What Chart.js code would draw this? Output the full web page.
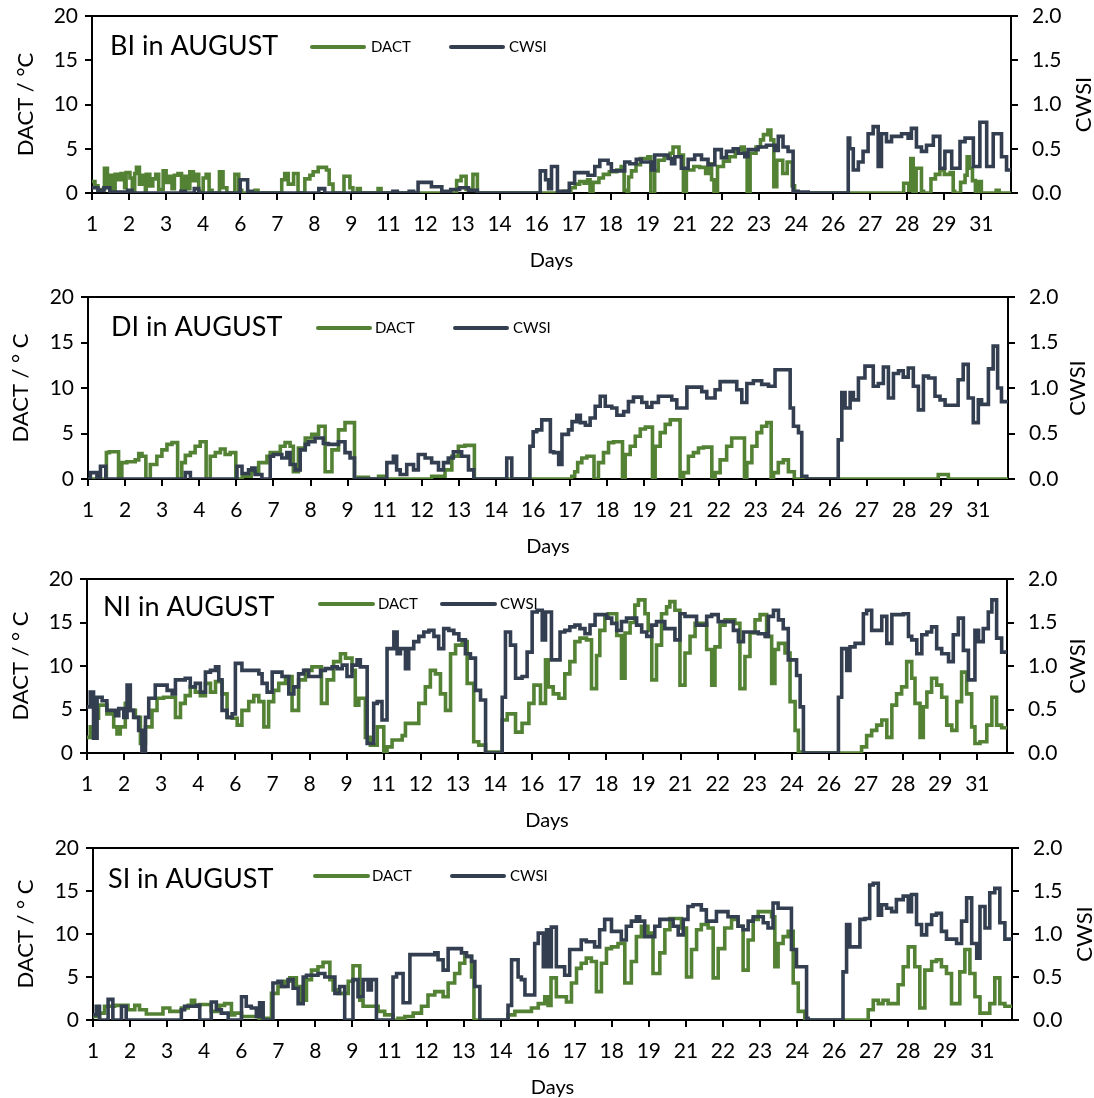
<!DOCTYPE html>
<html>
<head>
<meta charset="utf-8">
<script src="https://cdn.jsdelivr.net/npm/chart.js@4.4.1/dist/chart.umd.min.js"></script>
<style>
  html, body { margin: 0; padding: 0; background: #fff; overflow: hidden; }
  #wrap { position: relative; width: 1094px; height: 1098px; }
  canvas { position: absolute; left: 0; }
</style>
</head>
<body>
<div id="wrap">
  <canvas id="panelBI" width="1094" height="269"></canvas>
  <canvas id="panelDI" width="1094" height="274"></canvas>
  <canvas id="panelNI" width="1094" height="266"></canvas>
  <canvas id="panelSI" width="1094" height="264"></canvas>
</div>
<script>
// x ticks every 30 h, starting on day 1
const dayTicks = [1, 2.25, 3.5, 4.75, 6, 7.25, 8.5, 9.75, 11, 12.25, 13.5, 14.75, 16,
                  17.25, 18.5, 19.75, 21, 22.25, 23.5, 24.75, 26, 27.25, 28.5, 29.75, 31];
const dayLabels = ['1', '2', '3', '4', '6', '7', '8', '9', '11', '12', '13', '14', '16',
                   '17', '18', '19', '21', '22', '23', '24', '26', '27', '28', '29', '31'];
const dactTicks = [0, 5, 10, 15, 20];
const dactLabels = ['0', '5', '10', '15', '20'];
const cwsiTicks = [0, 0.5, 1, 1.5, 2];
const cwsiLabels = ['0.0', '0.5', '1.0', '1.5', '2.0'];

// [day, value] : value holds until the next point
const dactBI = [[1.0,1.3],[1.1,0.8],[1.2,0.4],[1.42,2.8],[1.52,1.0],[1.6,2.0],[1.7,0.3],[1.78,2.1],[1.9,1.5],[1.98,2.2],[2.1,0.6],[2.15,2.3],[2.28,1.7],[2.36,0.2],[2.44,2.2],[2.5,2.9],[2.6,1.0],[2.68,2.0],[2.8,0.3],[2.83,2.1],[2.95,0.8],[3.05,1.6],[3.15,2.1],[3.25,0.4],[3.4,2.5],[3.5,1.2],[3.6,1.9],[3.7,0.5],[3.78,2.0],[3.9,2.2],[4.02,0.3],[4.1,1.9],[4.2,0.5],[4.3,2.4],[4.42,1.4],[4.5,2.1],[4.6,0.2],[4.75,1.7],[4.85,2.1],[4.95,0.3],[5.05,0],[5.3,2.4],[5.42,0.6],[5.55,0],[5.82,2.1],[5.95,0.3],[6.05,0],[6.5,0.3],[6.6,0],[7.4,1.5],[7.5,2.2],[7.62,1.0],[7.8,2.2],[7.95,0],[8.18,1.6],[8.35,2.0],[8.46,2.4],[8.63,2.9],[8.91,2.6],[9.0,1.0],[9.13,0],[9.5,1.9],[9.7,0.6],[9.8,0],[9.95,0.5],[10.05,0],[10.65,0.5],[10.75,0],[13.3,1.4],[13.45,1.9],[13.62,0.4],[13.85,2.1],[14.0,0],[16.9,0.2],[17.0,0],[17.15,0.6],[17.3,1.0],[17.45,1.3],[17.6,1.1],[17.72,1.5],[17.8,0.2],[17.9,1.2],[18.1,1.7],[18.25,2.1],[18.45,2.4],[18.7,2.6],[18.85,3.0],[18.95,0.3],[19.05,0],[19.1,1.8],[19.2,2.5],[19.35,3.2],[19.5,3.9],[19.75,4.1],[19.85,0],[19.98,2.5],[20.1,3.7],[20.3,4.2],[20.5,4.5],[20.6,5.2],[20.8,4.3],[20.95,0],[21.05,2.6],[21.3,3.0],[21.5,2.9],[21.7,2.2],[21.8,3.3],[21.9,1.5],[21.98,0],[22.1,3.0],[22.3,3.6],[22.5,4.1],[22.7,4.9],[22.9,5.2],[23.0,4.5],[23.1,0],[23.2,4.5],[23.4,5.2],[23.55,6.0],[23.65,6.6],[23.8,7.1],[23.9,6.0],[24.0,0.7],[24.1,3.7],[24.3,2.2],[24.45,3.5],[24.62,0.8],[24.7,0],[28.38,1.1],[28.55,0.3],[28.62,3.9],[28.7,0.2],[28.8,2.8],[28.98,0.2],[29.05,0],[29.3,1.6],[29.45,2.1],[29.6,2.6],[29.75,2.1],[29.95,2.3],[30.05,0.2],[30.1,0],[30.3,1.2],[30.45,2.0],[30.52,4.1],[30.6,2.8],[30.7,1.4],[30.8,0],[30.88,1.3],[31.0,0],[31.5,0.3],[31.6,0],[32.0,0]];
const cwsiBI = [[1.0,0.06],[1.2,0.03],[1.4,0.06],[1.6,0.01],[2.2,0.03],[2.35,0],[4.0,0.02],[4.15,0],[4.45,0.05],[4.6,0],[6.0,0.15],[6.25,0.02],[6.4,0],[8.65,0.05],[8.85,0],[11.15,0.02],[11.3,0],[11.7,0.02],[11.85,0],[12.0,0.12],[12.45,0.07],[12.8,0.02],[13.1,0.04],[13.4,0.06],[13.7,0.03],[14.0,0],[16.12,0.25],[16.3,0.15],[16.4,0.05],[16.5,0.3],[16.7,0.02],[17.1,0.11],[17.28,0.23],[17.73,0.2],[17.96,0.3],[18.13,0.37],[18.41,0.33],[18.52,0.25],[18.97,0.35],[19.14,0.33],[19.36,0.38],[19.53,0.35],[19.87,0.26],[19.98,0.43],[20.43,0.39],[20.55,0.33],[20.66,0.41],[20.88,0.28],[21.11,0.38],[21.33,0.43],[21.56,0.38],[21.78,0.32],[22.01,0.49],[22.23,0.4],[22.4,0.47],[22.63,0.5],[22.8,0.45],[23.02,0.41],[23.13,0.49],[23.47,0.52],[23.75,0.54],[24.03,0.48],[24.15,0.64],[24.31,0.52],[24.48,0.47],[24.65,0.02],[24.82,0.01],[25.16,0],[26.51,0.62],[26.56,0.5],[26.68,0.26],[26.85,0.35],[27.01,0.47],[27.18,0.67],[27.35,0.75],[27.52,0.3],[27.63,0.67],[27.8,0.58],[27.97,0.64],[28.31,0.67],[28.53,0.62],[28.64,0.73],[28.81,0.52],[28.98,0.47],[29.15,0.54],[29.38,0.64],[29.6,0.28],[29.77,0.47],[30.0,0.28],[30.28,0.58],[30.45,0.62],[30.73,0.3],[30.95,0.8],[31.18,0.3],[31.4,0.67],[31.68,0.41],[31.85,0.26],[32.0,0.26]];

const dactDI = [[1.0,0],[1.62,2.9],[1.72,3.0],[2.03,0],[2.14,1.8],[2.31,1.9],[2.59,2.1],[2.71,2.8],[2.82,2.5],[2.95,0],[3.1,1.6],[3.32,2.5],[3.49,3.2],[3.66,3.8],[3.83,4.0],[4.02,0],[4.16,1.8],[4.28,2.6],[4.45,2.9],[4.61,3.6],[4.78,4.1],[4.98,0],[5.12,2.5],[5.29,2.9],[5.46,3.3],[5.62,2.7],[5.79,2.9],[5.98,0],[6.2,0.3],[6.5,0.8],[6.75,1.8],[7.03,2.5],[7.14,2.9],[7.48,3.6],[7.64,4.0],[7.81,3.6],[7.92,0.8],[8.09,3.4],[8.32,4.5],[8.54,4.9],[8.77,5.8],[8.99,0.8],[9.22,3.2],[9.44,5.4],[9.66,6.2],[9.98,0],[10.11,0.2],[10.45,0],[10.79,0.3],[11.0,0],[12.58,0.3],[13.03,1.0],[13.26,2.5],[13.48,3.6],[13.7,3.7],[14.02,0],[17.3,0.3],[17.4,0.8],[17.5,1.8],[17.64,2.3],[17.81,2.5],[18.05,0],[18.2,1.8],[18.37,2.9],[18.54,4.0],[18.71,4.1],[19.01,0],[19.1,2.7],[19.27,3.6],[19.44,4.7],[19.61,5.5],[19.78,5.7],[20.02,0],[20.11,3.6],[20.28,5.1],[20.45,6.0],[20.62,6.5],[20.95,0],[21.07,0.7],[21.23,2.5],[21.4,2.9],[21.57,3.4],[21.74,3.5],[22.02,0],[22.13,0.7],[22.3,2.1],[22.52,3.6],[22.69,4.5],[23.12,0],[23.2,1.8],[23.37,3.6],[23.54,5.1],[23.7,5.8],[23.87,6.2],[24.02,0],[24.1,0.7],[24.26,1.8],[24.43,2.1],[24.6,0.8],[24.8,0],[29.65,0.5],[29.99,0],[32.0,0]];
const cwsiDI = [[1.0,0],[1.08,0.07],[1.3,0],[1.42,0.14],[1.6,0],[4.28,0.07],[4.45,0],[6.02,0.14],[6.19,0.06],[6.41,0.1],[6.52,0.12],[6.63,0.05],[6.86,0],[7.14,0.25],[7.25,0.27],[7.53,0.23],[7.7,0.29],[7.81,0.16],[7.98,0.1],[8.15,0.32],[8.32,0.38],[8.43,0.41],[8.65,0.45],[8.93,0.39],[9.1,0.38],[9.44,0.41],[9.66,0.29],[9.83,0.23],[9.98,0],[11.07,0.18],[11.29,0.25],[11.4,0.1],[11.52,0.05],[11.74,0.16],[11.97,0.1],[12.13,0.27],[12.36,0.23],[12.58,0.18],[12.81,0.1],[12.98,0.18],[13.14,0.23],[13.31,0.3],[13.59,0.25],[13.82,0.1],[14.0,0],[15.11,0.23],[15.28,0],[15.89,0.36],[16.0,0.52],[16.12,0.54],[16.29,0.65],[16.58,0.3],[16.69,0.29],[16.86,0.16],[16.97,0.49],[17.19,0.54],[17.31,0.63],[17.47,0.7],[17.59,0.62],[17.76,0.59],[17.92,0.67],[18.09,0.8],[18.26,0.91],[18.43,0.8],[18.65,0.78],[18.82,0.7],[19.05,0.74],[19.21,0.85],[19.38,0.9],[19.66,0.84],[19.83,0.79],[20.0,0.84],[20.22,0.91],[20.67,0.87],[20.84,0.78],[21.18,1.01],[21.68,0.96],[21.85,0.89],[22.13,0.98],[22.3,1.07],[22.86,0.98],[23.03,0.84],[23.2,1.05],[23.42,1.08],[23.7,1.04],[23.93,1.02],[24.15,1.2],[24.66,0.78],[24.77,0.58],[24.94,0.51],[25.05,0.03],[25.22,0],[26.28,0.43],[26.4,0.95],[26.51,0.78],[26.68,0.95],[26.79,0.87],[26.96,1.11],[27.18,1.24],[27.46,1.02],[27.63,1.05],[27.8,1.23],[27.97,0.89],[28.14,1.16],[28.31,1.19],[28.47,1.12],[28.64,1.22],[28.81,1.02],[28.98,0.76],[29.15,1.13],[29.32,1.11],[29.54,0.91],[29.71,0.87],[29.88,0.81],[30.32,1.09],[30.49,1.26],[30.66,0.89],[30.83,0.62],[31.0,0.87],[31.11,0.82],[31.34,1.21],[31.5,1.46],[31.65,1.0],[31.78,0.85],[32.0,0.85]];

const dactNI = [[1.0,1.8],[1.11,3.0],[1.28,4.0],[1.39,5.5],[1.67,4.5],[1.9,3.0],[2.01,2.2],[2.12,3.0],[2.29,5.7],[2.4,4.9],[2.63,4.1],[2.8,1.1],[2.97,3.0],[3.19,4.9],[3.36,6.3],[3.58,6.4],[3.98,4.1],[4.15,5.7],[4.31,6.6],[4.48,7.6],[4.65,7.0],[4.82,6.6],[4.99,8.0],[5.16,7.0],[5.33,8.2],[5.55,6.8],[5.72,4.1],[5.89,4.0],[6.06,3.2],[6.22,4.9],[6.45,5.9],[6.62,6.6],[6.79,5.9],[6.96,3.0],[7.12,5.9],[7.29,7.2],[7.46,8.0],[7.69,8.8],[7.91,4.9],[8.13,8.4],[8.36,9.5],[8.58,9.9],[8.9,5.7],[9.09,8.4],[9.31,10.5],[9.54,11.4],[9.71,10.9],[9.93,9.5],[10.04,5.5],[10.16,6.3],[10.38,1.8],[10.55,0.9],[10.78,3.0],[11.0,0.1],[11.11,0.7],[11.28,1.5],[11.62,2.0],[11.73,3.4],[12.18,5.7],[12.4,7.6],[12.57,9.5],[12.74,9.1],[12.91,6.8],[13.08,4.9],[13.25,11.4],[13.42,12.4],[13.64,12.8],[13.81,8.0],[14.03,1.3],[14.2,0.9],[14.43,0.1],[14.99,3.8],[15.16,4.5],[15.44,2.4],[15.66,3.4],[15.89,5.7],[16.06,7.8],[16.28,5.7],[16.45,10.7],[16.54,7.6],[16.71,6.8],[16.9,6.3],[17.1,9.1],[17.27,10.5],[17.44,12.8],[17.61,13.2],[17.83,13.0],[18.0,7.4],[18.17,11.2],[18.28,14.1],[18.45,15.6],[18.56,16.0],[18.85,13.5],[19.01,8.6],[19.13,13.8],[19.3,15.0],[19.46,17.0],[19.58,17.6],[19.8,16.0],[19.91,14.1],[20.03,8.4],[20.19,12.4],[20.36,16.0],[20.53,16.8],[20.64,17.4],[20.81,16.4],[20.98,7.8],[21.15,11.5],[21.32,13.4],[21.49,14.9],[21.88,11.9],[22.05,7.8],[22.16,12.2],[22.33,14.7],[22.5,15.3],[22.83,14.9],[23.0,7.4],[23.17,11.1],[23.34,13.8],[23.51,15.3],[23.68,15.9],[23.9,13.4],[24.07,8.0],[24.18,11.9],[24.3,12.6],[24.52,11.5],[24.69,5.9],[24.86,2.6],[24.97,0.1],[25.14,0],[27.1,0.7],[27.27,2.0],[27.44,2.6],[27.61,3.2],[27.78,3.8],[27.95,1.8],[28.12,5.5],[28.28,6.8],[28.45,7.6],[28.62,10.5],[28.79,8.6],[28.9,5.7],[29.07,1.8],[29.18,5.3],[29.3,7.0],[29.46,8.6],[29.63,7.8],[29.8,6.4],[29.97,3.2],[30.14,2.6],[30.31,5.9],[30.47,9.3],[30.64,6.8],[30.81,3.0],[30.92,1.1],[31.09,1.3],[31.32,3.2],[31.49,6.4],[31.65,3.2],[31.82,2.9],[32.0,2.9]];
const cwsiNI = [[1.0,0.53],[1.11,0.7],[1.22,0.17],[1.34,0.64],[1.51,0.6],[1.67,0.49],[1.96,0.43],[2.07,0.51],[2.24,0.41],[2.35,0.78],[2.46,0.49],[2.57,0.41],[2.74,0.26],[2.85,0],[2.97,0.41],[3.08,0.63],[3.3,0.78],[3.7,0.72],[3.87,0.68],[3.98,0.84],[4.31,0.86],[4.48,0.76],[4.65,0.8],[4.82,0.7],[4.99,0.93],[5.16,0.95],[5.33,0.99],[5.44,0.84],[5.55,0.49],[5.72,0.41],[5.89,0.45],[6.0,1.03],[6.22,0.95],[6.79,0.91],[6.9,0.8],[7.07,0.7],[7.24,0.93],[7.57,0.88],[7.8,0.68],[7.97,0.76],[8.13,0.91],[8.3,0.95],[8.47,0.88],[8.87,0.95],[9.03,0.97],[9.26,0.99],[9.43,0.97],[9.6,1.01],[9.76,0.88],[9.93,1.01],[10.1,1.07],[10.21,0.99],[10.44,0.11],[10.66,0.57],[10.78,0.59],[10.94,0.38],[11.11,1.2],[11.34,1.39],[11.45,1.14],[11.56,1.2],[11.73,0.97],[11.84,1.2],[12.01,1.28],[12.18,1.34],[12.35,1.39],[12.52,1.41],[12.69,1.34],[12.85,1.2],[13.02,1.43],[13.19,1.41],[13.36,1.37],[13.53,1.3],[13.75,1.14],[13.92,1.09],[14.09,0.72],[14.26,0.61],[14.43,0],[14.99,0.64],[15.1,1.39],[15.27,1.24],[15.44,0.86],[15.66,0.88],[15.83,1.16],[16.0,1.62],[16.17,1.64],[16.34,1.3],[16.45,1.62],[16.65,1.07],[16.94,1.39],[17.1,1.41],[17.27,1.45],[17.44,1.47],[17.61,1.43],[17.78,1.37],[17.95,1.47],[18.12,1.59],[18.51,1.55],[18.68,1.49],[18.85,1.41],[19.01,1.51],[19.18,1.55],[19.52,1.47],[19.69,1.39],[19.86,1.34],[20.03,1.47],[20.19,1.51],[20.47,1.43],[20.81,1.3],[20.98,1.6],[21.15,1.57],[21.54,1.47],[21.88,1.57],[22.05,1.59],[22.27,1.51],[22.78,1.41],[22.95,1.28],[23.12,1.39],[23.62,1.37],[23.85,1.34],[23.96,1.57],[24.13,1.64],[24.3,1.53],[24.46,1.43],[24.63,1.07],[24.91,0.89],[25.03,0.53],[25.14,0],[26.32,0.64],[26.43,1.2],[26.6,0.95],[26.71,1.22],[26.88,1.26],[27.16,1.6],[27.27,1.64],[27.44,1.41],[27.78,1.57],[27.95,1.26],[28.12,1.59],[28.51,1.6],[28.68,1.34],[28.79,1.3],[28.96,1.14],[29.13,1.36],[29.3,1.39],[29.46,1.45],[29.63,1.2],[29.8,1.14],[30.03,1.05],[30.19,1.36],[30.36,1.55],[30.53,1.18],[30.7,0.84],[30.92,1.41],[31.04,1.28],[31.2,1.43],[31.37,1.62],[31.49,1.76],[31.65,1.32],[31.82,1.16],[32.0,1.16]];

const dactSI = [[1.0,0.4],[1.22,0.8],[1.39,1.6],[1.73,1.7],[2.18,1.2],[2.41,1.7],[2.57,1.2],[2.8,0.7],[3.36,1.4],[3.59,1.0],[3.98,1.4],[4.21,1.7],[4.32,2.3],[4.43,1.7],[4.6,1.8],[4.99,1.0],[5.27,1.7],[5.44,1.9],[5.67,0.6],[5.78,0.8],[6.01,0.4],[6.6,0.2],[7.02,3.1],[7.24,3.9],[7.47,4.5],[7.64,4.9],[7.86,3.9],[8.03,2.3],[8.2,4.7],[8.37,5.8],[8.59,6.2],[8.76,6.7],[8.99,4.7],[9.1,3.5],[9.27,3.1],[9.61,4.5],[9.77,6.3],[10.0,2.3],[10.11,1.6],[10.62,1.0],[10.84,0.6],[11.12,0],[11.29,0.2],[11.52,0.4],[11.8,0.8],[12.08,1.6],[12.3,2.9],[12.53,3.3],[12.81,2.7],[12.98,4.3],[13.2,5.4],[13.37,6.6],[13.54,7.4],[13.77,5.0],[13.85,0],[15.0,0.6],[15.23,1.0],[15.79,1.4],[16.02,1.9],[16.24,2.7],[16.35,1.7],[16.45,4.9],[16.63,2.7],[16.97,2.1],[17.14,4.3],[17.31,6.0],[17.47,6.6],[17.64,7.2],[17.81,6.8],[17.98,3.3],[18.15,6.6],[18.32,8.3],[18.49,8.5],[18.71,8.9],[18.94,4.3],[19.16,6.8],[19.33,9.7],[19.5,10.9],[19.72,10.1],[19.89,5.4],[20.12,7.8],[20.29,10.5],[20.46,11.8],[20.85,10.7],[21.02,5.0],[21.19,8.2],[21.36,10.5],[21.52,11.1],[21.75,10.7],[21.92,4.9],[22.09,8.3],[22.31,10.7],[22.54,11.7],[22.76,10.9],[22.93,5.8],[23.1,9.3],[23.27,11.7],[23.44,12.6],[23.89,12.0],[24.0,6.2],[24.11,8.9],[24.28,9.7],[24.45,10.3],[24.62,4.3],[24.79,1.0],[25.01,0],[27.15,1.2],[27.32,2.3],[27.49,1.9],[27.65,2.3],[27.82,1.9],[28.16,4.1],[28.33,6.2],[28.5,8.5],[28.72,6.2],[28.89,1.4],[29.06,5.8],[29.29,6.8],[29.45,7.0],[29.62,6.2],[29.79,5.4],[29.96,1.9],[30.24,5.6],[30.41,8.2],[30.58,5.4],[30.75,2.7],[30.92,0.8],[31.25,1.9],[31.42,4.9],[31.59,1.9],[31.76,1.6],[32.0,1.6]];
const cwsiSI = [[1.0,0.06],[1.11,0.16],[1.22,0],[1.51,0.24],[1.67,0],[1.96,0.16],[2.12,0],[3.98,0.12],[4.09,0.16],[4.49,0.17],[4.6,0],[4.99,0.21],[5.16,0.12],[5.33,0.08],[5.56,0],[6.01,0.27],[6.17,0.16],[6.34,0.14],[6.51,0.04],[6.62,0.2],[6.74,0],[7.07,0.43],[7.24,0.45],[7.36,0.39],[7.58,0.47],[7.75,0.37],[7.92,0.19],[8.09,0.5],[8.2,0.52],[8.59,0.54],[8.82,0.5],[9.16,0.31],[9.32,0.39],[9.49,0],[9.77,0.47],[9.94,0.27],[10.11,0.47],[10.28,0.35],[10.39,0.47],[10.56,0],[11.12,0.5],[11.24,0.54],[11.46,0.2],[11.69,0.76],[12.53,0.78],[12.64,0.7],[12.81,0.58],[12.98,0.83],[13.43,0.78],[13.6,0.74],[13.77,0.68],[13.88,0.39],[14.05,0],[15.0,0.17],[15.12,0.7],[15.34,0.5],[15.45,0.47],[15.57,0.29],[15.9,0.89],[16.02,1.01],[16.19,0.62],[16.3,1.05],[16.35,0.62],[16.46,1.08],[16.63,0.62],[16.91,0.52],[17.08,0.82],[17.47,0.93],[17.64,0.91],[17.92,0.85],[18.09,1.05],[18.26,1.17],[18.49,1.03],[18.82,0.93],[18.99,1.09],[19.16,1.15],[19.33,1.2],[19.44,1.15],[19.61,0.97],[19.95,1.09],[20.12,1.17],[20.57,1.09],[20.74,0.99],[20.91,1.17],[21.07,1.32],[21.24,1.34],[21.52,1.28],[21.69,1.15],[22.03,1.26],[22.42,1.2],[22.76,1.09],[22.93,1.05],[23.1,1.15],[23.27,1.2],[23.61,1.13],[23.77,1.07],[23.94,1.36],[24.11,1.3],[24.56,0.82],[24.73,0.62],[25.07,0.02],[25.12,0],[26.3,0.56],[26.42,1.11],[26.53,0.85],[26.87,1.17],[27.04,1.18],[27.2,1.57],[27.32,1.59],[27.49,1.22],[27.6,1.34],[27.77,1.3],[27.94,1.26],[28.1,1.4],[28.33,1.44],[28.5,1.26],[28.61,1.46],[28.78,1.11],[28.95,0.99],[29.12,1.11],[29.29,1.22],[29.45,1.24],[29.62,1.03],[29.79,0.94],[30.13,0.89],[30.3,1.15],[30.47,1.42],[30.64,0.89],[30.81,0.72],[30.92,1.32],[31.09,1.07],[31.25,1.48],[31.42,1.53],[31.59,1.13],[31.76,0.94],[32.0,0.94]];

const FONT = "Lato, 'Open Sans', sans-serif";
const GREEN = '#548235';
const NAVY = '#333f50';
const PAD_TOP = 14;
const X_AXIS_H = 78;

// page geometry of each panel's plot box and its decorations
const panels = [
  { id: 'panelBI', name: 'BI', dact: dactBI, cwsi: cwsiBI, yTitle: 'DACT / °C',
    left: 92, right: 1011, top: 16, bottom: 193, yTitlePad: 15, cwsiTitleX: 1084,
    titleX: 110, titleY: 55, legY: 47, dactLine: [312, 364], dactText: 371, cwsiLine: [451, 503], cwsiText: 509 },
  { id: 'panelDI', name: 'DI', dact: dactDI, cwsi: cwsiDI, yTitle: 'DACT / ° C',
    left: 88, right: 1008, top: 297, bottom: 479, yTitlePad: 10, cwsiTitleX: 1078,
    titleX: 111, titleY: 336, legY: 328, dactLine: [318, 370], dactText: 375, cwsiLine: [455, 507], cwsiText: 513 },
  { id: 'panelNI', name: 'NI', dact: dactNI, cwsi: cwsiNI, yTitle: 'DACT / ° C',
    left: 87, right: 1007, top: 579, bottom: 753, yTitlePad: 10, cwsiTitleX: 1078,
    titleX: 103, titleY: 616, legY: 604, dactLine: [320, 373], dactText: 378, cwsiLine: [442, 495], cwsiText: 500 },
  { id: 'panelSI', name: 'SI', dact: dactSI, cwsi: cwsiSI, yTitle: 'DACT / ° C',
    left: 93, right: 1012, top: 848, bottom: 1020, yTitlePad: 15, cwsiTitleX: 1085,
    titleX: 108, titleY: 888, legY: 876, dactLine: [315, 368], dactText: 372, cwsiLine: [452, 504], cwsiText: 510 }
];

Chart.defaults.font.family = FONT;
Chart.defaults.color = '#000';

function decorPlugin(p, canvasTop) {
  return {
    id: 'decor' + p.name,
    afterDraw(chart) {
      const ctx = chart.ctx;
      const dy = -canvasTop;
      ctx.save();
      ctx.fillStyle = '#000';
      ctx.font = `27px ${FONT}`;
      ctx.textBaseline = 'alphabetic';
      ctx.fillText(`${p.name} in AUGUST`, p.titleX, p.titleY + dy);

      ctx.lineWidth = 4;
      ctx.lineCap = 'round';
      [[p.dactLine, GREEN], [p.cwsiLine, NAVY]].forEach(([seg, color]) => {
        ctx.strokeStyle = color;
        ctx.beginPath();
        ctx.moveTo(seg[0], p.legY + dy);
        ctx.lineTo(seg[1], p.legY + dy);
        ctx.stroke();
      });
      ctx.font = `15px ${FONT}`;
      ctx.textBaseline = 'middle';
      ctx.fillText('DACT', p.dactText, p.legY + dy);
      ctx.fillText('CWSI', p.cwsiText, p.legY + dy);

      ctx.translate(p.cwsiTitleX, (p.top + p.bottom) / 2 + dy);
      ctx.rotate(-Math.PI / 2);
      ctx.font = `22px ${FONT}`;
      ctx.textAlign = 'center';
      ctx.fillText('CWSI', 0, 0);
      ctx.restore();
    }
  };
}

// keep tick-label overflow from pushing the plot box around
function fixWidth(w) {
  return s => { s.width = w; s.paddingTop = 0; s.paddingBottom = 0; };
}

function buildPanel(p) {
  const canvasTop = p.top - PAD_TOP;
  const canvas = document.getElementById(p.id);
  canvas.style.top = canvasTop + 'px';
  canvas.height = p.bottom - p.top + PAD_TOP + X_AXIS_H;

  const tickFont = { family: FONT, size: 21 };
  const axisBorder = { display: true, color: '#000', width: 2 };

  new Chart(canvas, {
    type: 'line',
    data: {
      datasets: [
        { label: 'DACT', data: p.dact, yAxisID: 'y', borderColor: GREEN, borderWidth: 3.6,
          stepped: true, pointRadius: 0, order: 1 },
        { label: 'CWSI', data: p.cwsi, yAxisID: 'y1', borderColor: NAVY, borderWidth: 3.6,
          stepped: true, pointRadius: 0, order: 0 }
      ]
    },
    options: {
      responsive: false,
      animation: false,
      events: [],
      layout: { padding: { top: PAD_TOP, left: 0, right: 0, bottom: 0 } },
      plugins: { legend: { display: false }, tooltip: { enabled: false } },
      scales: {
        x: {
          type: 'linear', min: 1, max: 32,
          afterBuildTicks: s => { s.ticks = dayTicks.map(v => ({ value: v })); },
          afterFit: s => { s.height = X_AXIS_H; s.paddingLeft = 0; s.paddingRight = 0; },
          ticks: { autoSkip: false, maxRotation: 0, padding: 12, font: tickFont,
                   callback: (v, i) => dayLabels[i] },
          grid: { drawOnChartArea: false, tickLength: 7, tickColor: '#000', lineWidth: 2 },
          border: axisBorder,
          title: { display: true, text: 'Days', font: { family: FONT, size: 20, lineHeight: 1 },
                   padding: { top: 0, bottom: 0 } }
        },
        y: {
          position: 'left', min: 0, max: 20,
          afterBuildTicks: s => { s.ticks = dactTicks.map(v => ({ value: v })); },
          afterFit: fixWidth(p.left),
          ticks: { padding: 7, font: tickFont, callback: (v, i) => dactLabels[i] },
          grid: { color: c => (c.tick && c.tick.value === 20 ? '#000' : 'rgba(0,0,0,0)'),
                  tickColor: '#000', tickLength: 7, lineWidth: 2 },
          border: axisBorder,
          title: { display: true, text: p.yTitle, font: { family: FONT, size: 22, lineHeight: 1 },
                   padding: { top: p.yTitlePad, bottom: 0 } }
        },
        y1: {
          position: 'right', min: 0, max: 2,
          afterBuildTicks: s => { s.ticks = cwsiTicks.map(v => ({ value: v })); },
          afterFit: fixWidth(1094 - p.right),
          ticks: { padding: 14, font: tickFont, callback: (v, i) => cwsiLabels[i] },
          grid: { drawOnChartArea: false, tickColor: '#000', tickLength: 7, lineWidth: 2 },
          border: axisBorder
        }
      }
    },
    plugins: [decorPlugin(p, canvasTop)]
  });
}

panels.forEach(buildPanel);
</script>
</body>
</html>
